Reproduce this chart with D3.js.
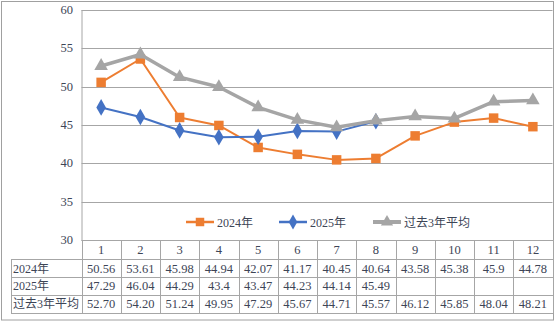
<!DOCTYPE html>
<html><head><meta charset="utf-8">
<script src="https://cdn.jsdelivr.net/npm/d3@7"></script>
<style>body{margin:0;background:#fff}svg{display:block}</style>
</head><body>
<svg id="c" width="555" height="323"></svg>
<script>
const months = ["1","2","3","4","5","6","7","8","9","10","11","12"];
const s2024 = [50.56,53.61,45.98,44.94,42.07,41.17,40.45,40.64,43.58,45.38,45.9,44.78];
const s2025 = [47.29,46.04,44.29,43.4,43.47,44.23,44.14,45.49,null,null,null,null];
const sAvg = [52.70,54.20,51.24,49.95,47.29,45.67,44.71,45.57,46.12,45.85,48.04,48.21];
const avgLabels = ["52.70","54.20","51.24","49.95","47.29","45.67","44.71","45.57","46.12","45.85","48.04","48.21"];
const seriesNames = ["2024年","2025年","过去3年平均"];
const yTicks = [30,35,40,45,50,55,60];

const svg = d3.select("#c");
const font = "'Liberation Serif','Noto Sans CJK SC',serif";
const txt = "#3d4556";
const grid = "#a6a6a6";
const L = 81.5, R = 552.5, T = 10, B = 240;
const x = d3.scaleBand().domain(months).range([L, R]);
const y = d3.scaleLinear().domain([30, 60]).range([B, T]);

// outer border
svg.append("rect").attr("x",1.5).attr("y",1.5).attr("width",552).attr("height",318.5)
  .attr("fill","none").attr("stroke","#a0a0a0").attr("stroke-width",1);

// gridlines
svg.append("g").selectAll("line").data(yTicks).join("line")
  .attr("x1",L).attr("x2",R).attr("y1",d=>Math.round(y(d))+0.5).attr("y2",d=>Math.round(y(d))+0.5)
  .attr("stroke",grid).attr("stroke-width",1);
svg.append("line").attr("x1",L+0.5).attr("x2",L+0.5).attr("y1",T).attr("y2",B).attr("stroke",grid);

// y labels
svg.append("g").selectAll("text").data(yTicks).join("text")
  .attr("x",73).attr("y",d=>y(d)+4).attr("text-anchor","end")
  .attr("font-family",font).attr("font-size",12.5).attr("fill",txt).text(d=>d);

// table
const rowY = [240, 259, 277, 294.5, 312.5];
const tg = svg.append("g");
const TL = 11;
tg.append("line").attr("x1",L).attr("x2",R+0.5).attr("y1",rowY[0]+0.5).attr("y2",rowY[0]+0.5).attr("stroke",grid);
for (let i=1;i<rowY.length;i++){
  tg.append("line").attr("x1",TL).attr("x2",R+0.5).attr("y1",Math.round(rowY[i])+0.5).attr("y2",Math.round(rowY[i])+0.5).attr("stroke",grid);
}
tg.append("line").attr("x1",TL+0.5).attr("x2",TL+0.5).attr("y1",rowY[1]).attr("y2",Math.round(rowY[4])+0.5).attr("stroke",grid);
const cols = months.map(m=>x(m)).concat([R]);
cols.forEach(cx=>{
  tg.append("line").attr("x1",Math.round(cx)+0.5).attr("x2",Math.round(cx)+0.5)
    .attr("y1",rowY[0]).attr("y2",Math.round(rowY[4])+0.5).attr("stroke",grid);
});
tg.selectAll("text.h").data(months).join("text").attr("class","h")
  .attr("x",d=>x(d)+x.bandwidth()/2).attr("y",(rowY[0]+rowY[1])/2+4.5)
  .attr("text-anchor","middle").attr("font-family",font).attr("font-size",12.5).attr("fill",txt).text(d=>d);
const rows = [s2024.map(v=>v==null?"":String(v)), s2025.map(v=>v==null?"":String(v)), avgLabels];
rows.forEach((r,i)=>{
  const cy = (rowY[i+1]+rowY[i+2])/2+4.5;
  tg.append("text").attr("x",13).attr("y",cy).attr("font-family",font).attr("font-size",12).attr("fill",txt).text(seriesNames[i]);
  tg.selectAll("text.r"+i).data(r).join("text").attr("class","r"+i)
    .attr("x",(d,j)=>x(months[j])+x.bandwidth()/2).attr("y",cy)
    .attr("text-anchor","middle").attr("font-family",font).attr("font-size",12.5).attr("fill",txt).text(d=>d);
});

// series
const cx = (d,i)=>x(months[i])+x.bandwidth()/2;
const line = d3.line().defined(d=>d!=null).x((d,i)=>cx(d,i)).y(d=>y(d));
const styles = [
  {data:s2024,color:"#ED7D31",w:2,sym:d3.symbolSquare,size:90},
  {data:s2025,color:"#4472C4",w:2,sym:d3.symbolDiamond,size:80},
  {data:sAvg,color:"#A5A5A5",w:3.5,sym:d3.symbolTriangle,size:80}
];
styles.forEach(s=>{
  svg.append("path").attr("d",line(s.data)).attr("fill","none").attr("stroke",s.color).attr("stroke-width",s.w).attr("stroke-linejoin","round");
  svg.append("g").selectAll("path").data(s.data.map((v,i)=>({v,i})).filter(d=>d.v!=null)).join("path")
    .attr("transform",d=>`translate(${cx(d.v,d.i)},${y(d.v)})`)
    .attr("d",d3.symbol().type(s.sym).size(s.size)).attr("fill",s.color);
});

// legend
const legX = [186, 279, 373];
const ly = 222;
styles.forEach((s,i)=>{
  const g = svg.append("g").attr("transform",`translate(${legX[i]},${ly})`);
  g.append("line").attr("x1",0).attr("x2",28).attr("y1",0).attr("y2",0).attr("stroke",s.color).attr("stroke-width",s.w+0.5);
  g.append("path").attr("transform","translate(14,0)").attr("d",d3.symbol().type(s.sym).size(s.size*0.8)).attr("fill",s.color);
  g.append("text").attr("x",31).attr("y",4.5).attr("font-family",font).attr("font-size",12).attr("fill",txt).text(seriesNames[i]);
});
</script>
</body></html>
